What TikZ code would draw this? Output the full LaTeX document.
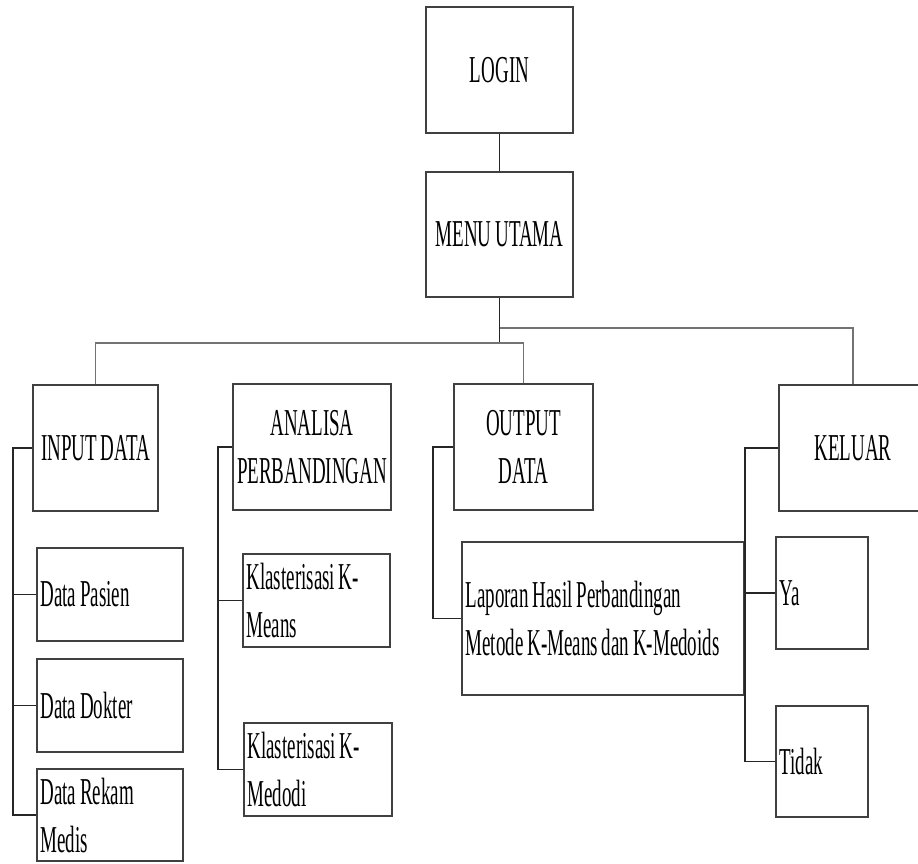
\documentclass[tikz,border=0pt]{standalone}
\usepackage{fontspec}
\setmainfont{Liberation Serif}[FakeStretch=0.5, WordSpace=0.8]
\begin{document}
\begin{tikzpicture}[x=1pt,y=-1pt,
  box/.style={draw=black!75, line width=1.6pt, inner xsep=3.5pt, inner ysep=0pt,
              font=\fontsize{38}{48}\selectfont, text=black},
  cbox/.style={box, align=center},
  lbox/.style={box, align=flush left},
  link/.style={draw=black!85, line width=1.5pt},
  bus/.style={draw=black!55, line width=1.5pt}]
\useasboundingbox (0,0) rectangle (918,863);
\clip (0,0) rectangle (918,863);

% top of the menu tree
\node[cbox, minimum width=147pt, minimum height=126pt] (login) at (499.5,70) {LOGIN};
\node[cbox, minimum width=147pt, minimum height=125pt] (menu) at (499.5,234.5) {MENU UTAMA};

% main menu entries
\node[cbox, minimum width=125pt, minimum height=126pt] (input) at (95.5,448) {INPUT DATA};
\node[cbox, minimum width=158pt, minimum height=126pt] (analisa) at (312,447) {ANALISA\\PERBANDINGAN};
\node[cbox, minimum width=139pt, minimum height=126pt] (output) at (523.5,447) {OUTPUT\\DATA};
\node[cbox, minimum width=148pt, minimum height=126pt] (keluar) at (853,448) {KELUAR};

% sub entries
\node[lbox, text width=139pt, minimum height=93pt] (pasien) at (110,594.5) {Data Pasien};
\node[lbox, text width=139pt, minimum height=93pt] (dokter) at (110,705.5) {Data Dokter};
\node[lbox, text width=139pt, minimum height=92pt] (rekam) at (110,815) {Data Rekam\\Medis};
\node[lbox, text width=140pt, minimum height=93pt] (kmeans) at (316.5,600.5) {Klasterisasi K-\\Means};
\node[lbox, text width=141pt, minimum height=93pt] (kmedodi) at (318,769.5) {Klasterisasi K-\\Medodi};
\node[lbox, text width=275pt, minimum height=153pt] (laporan) at (603,618.5) {Laporan Hasil Perbandingan\\Metode K-Means dan K-Medoids};
\node[lbox, text width=85pt, minimum height=112pt] (ya) at (822,593) {Ya};
\node[lbox, text width=85pt, minimum height=111pt] (tidak) at (822,761.5) {Tidak};

% bus lines under the main menu
\coordinate (busL) at (499.5,343);
\coordinate (busR) at (499.5,328);
\draw[link] (login) -- (menu);
\draw[link] (menu.south) -- (busL);
\draw[bus] (busR) -| (keluar.north);
\draw[bus] (busL) -| (input.north);
\draw[bus] (busL) -| (output.north);

% trunks for each group of sub entries
\coordinate (tin) at (13,0);
\coordinate (tan) at (218,0);
\coordinate (tout) at (433,0);
\coordinate (tkel) at (745,0);

\draw[link] (input.west) -| (tin |- rekam.west) -- (rekam.west);
\draw[link] (pasien.west) -- (tin |- pasien.west);
\draw[link] (dokter.west) -- (tin |- dokter.west);

\draw[link] (analisa.west) -| (tan |- kmedodi.west) -- (kmedodi.west);
\draw[link] (kmeans.west) -- (tan |- kmeans.west);

\draw[link] (output.west) -| (tout |- laporan.west) -- (laporan.west);

\draw[link] (keluar.west) -| (tkel |- tidak.west) -- (tidak.west);
\draw[link] (ya.west) -- (tkel |- ya.west);
\end{tikzpicture}
\end{document}
